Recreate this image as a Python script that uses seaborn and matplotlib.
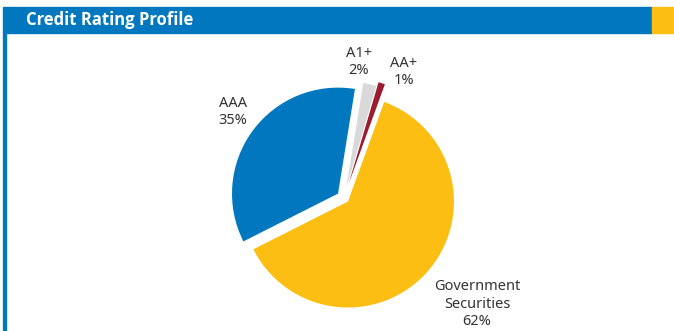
import matplotlib
matplotlib.use("Agg")
import matplotlib.pyplot as plt
import seaborn as sns
from matplotlib.patches import Rectangle

# ---- data ----
categories = ["Government\nSecurities", "AAA", "A1+", "AA+"]
shares = [62, 35, 2, 1]
colors = ["#FDBE14", "#0077BE", "#D9D9D9", "#9B1B30"]
explode = [0.05, 0.07, 0.10, 0.14]
title = "Credit Rating Profile"

sns.set_theme(style="white")
plt.rcParams["font.family"] = ["Noto Sans", "DejaVu Sans"]

W, H = 674, 331
fig = plt.figure(figsize=(W / 100, H / 100), dpi=100)
fig.patch.set_facecolor("white")

ax = fig.add_axes([0, 0, 1, 1])
ax.set_facecolor("white")

R = 106
cx, cy = 344, H - 198
wedges, _ = ax.pie(shares, colors=colors, startangle=70, counterclock=False,
                   explode=[e * R for e in explode], radius=R, center=(cx, cy),
                   wedgeprops=dict(linewidth=0))
ax.set_xlim(0, W)
ax.set_ylim(0, H)
ax.set_aspect("equal", adjustable="box")
ax.axis("off")

# header bar
ax.add_patch(Rectangle((3, H - 33), 649, 26, color="#0077BE", zorder=5, clip_on=False))
ax.add_patch(Rectangle((652, H - 33), 22, 26, color="#FDBE14", zorder=5, clip_on=False))
ax.add_patch(Rectangle((3, 0), 2.5, H - 33, color="#0077BE", zorder=5, clip_on=False))
ax.text(26, H - 20, title, color="white", fontsize=12, fontweight="bold",
        family=["Open Sans", "DejaVu Sans"], va="center", ha="left", zorder=6)

# labels
label_pos = {
    "Government\nSecurities": (477, H - 304),
    "AAA": (233, H - 112),
    "A1+": (359, H - 62),
    "AA+": (404, H - 72),
}
for cat, val in zip(categories, shares):
    x, y = label_pos[cat]
    ax.text(x, y, f"{cat}\n{val}%", ha="center", va="center", fontsize=10.5,
            color="#333333", linespacing=1.25)

fig.savefig("out.png", dpi=100)
